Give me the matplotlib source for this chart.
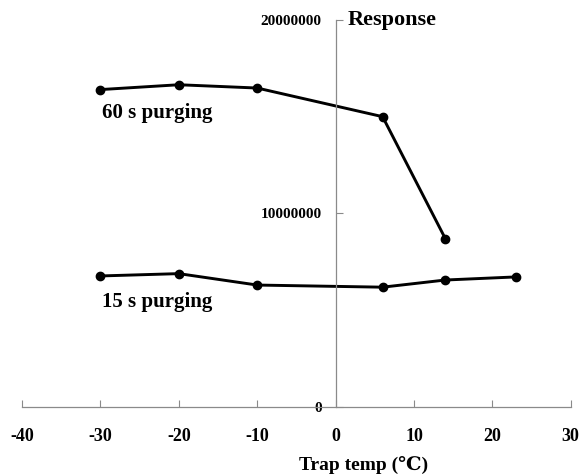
import matplotlib
matplotlib.use("Agg")
import matplotlib.pyplot as plt

# trap temperature (C) and response for the two purge times
temp_60 = [-30, -20, -10, 6, 14]
resp_60 = [16400000, 16650000, 16480000, 15000000, 8700000]
temp_15 = [-30, -20, -10, 6, 14, 23]
resp_15 = [6770000, 6890000, 6300000, 6190000, 6560000, 6720000]

xticks = [-40, -30, -20, -10, 0, 10, 20, 30]
yticks = [0, 10000000, 20000000]
ytick_labels = ["0", "10000000", "20000000"]

SERIF = ["Liberation Serif", "DejaVu Serif"]
AXIS = "#8a8a8a"

fig = plt.figure(figsize=(5.8, 4.74), dpi=100)
ax = fig.add_axes([0.038, 0.1414, 0.946, 0.8166])

ax.plot(temp_60, resp_60, color="black", lw=2.1, marker="o", ms=6)
ax.plot(temp_15, resp_15, color="black", lw=2.1, marker="o", ms=6)

ax.set_xlim(-40, 30)
ax.set_ylim(0, 20000000)
ax.set_xticks(xticks)
ax.set_xticklabels([str(t) for t in xticks])
ax.set_yticks(yticks)
ax.set_yticklabels(ytick_labels)

for s in ("top", "right"):
    ax.spines[s].set_visible(False)
ax.spines["left"].set_position(("data", 0))
for s in ("left", "bottom"):
    ax.spines[s].set_color(AXIS)
    ax.spines[s].set_linewidth(0.9)

ax.tick_params(axis="x", direction="in", length=5, color=AXIS, pad=15)
ax.tick_params(axis="y", direction="in", length=5, color=AXIS, pad=10)
for lab in ax.get_xticklabels():
    lab.set_family(SERIF); lab.set_weight("bold"); lab.set_fontsize(13)
for lab in ax.get_yticklabels():
    lab.set_family(SERIF); lab.set_weight("bold"); lab.set_fontsize(11)

ax.text(1.5, 20000000, "Response", family=SERIF, weight="bold", fontsize=16,
        ha="left", va="center")
ax.text(-29.8, 15200000, "60 s purging", family=SERIF, weight="bold", fontsize=15,
        ha="left", va="center")
ax.text(-29.8, 5430000, "15 s purging", family=SERIF, weight="bold", fontsize=15,
        ha="left", va="center")
fig.text(0.626, 0.019, "Trap temp (℃)", family=SERIF, weight="bold", fontsize=14,
         ha="center", va="center")

fig.savefig("out.png", dpi=100, facecolor="white")
